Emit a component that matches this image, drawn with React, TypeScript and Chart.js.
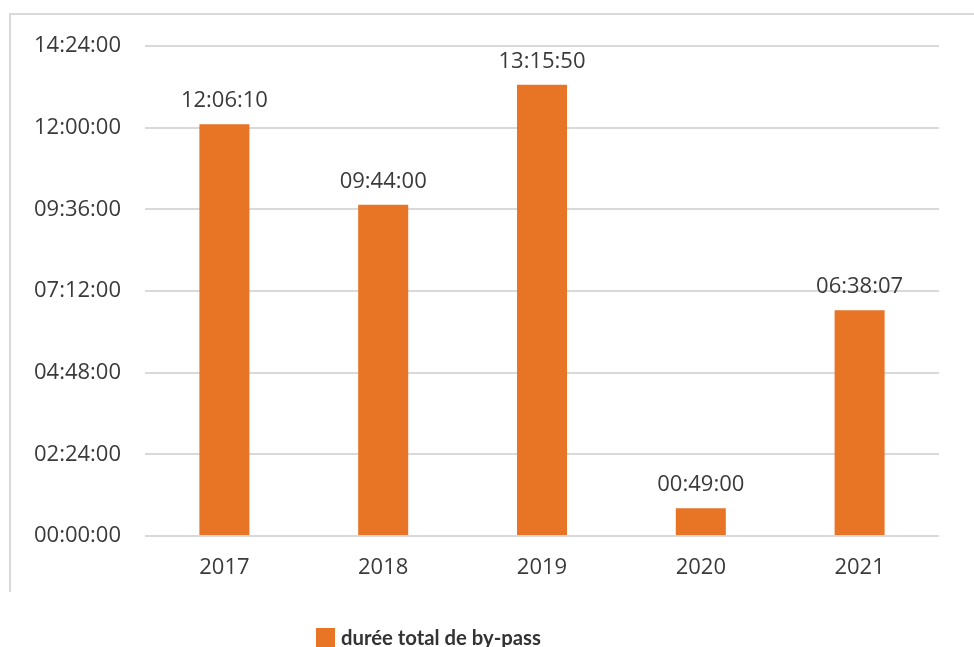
import React, { useEffect, useRef } from "react";
import { Chart, registerables } from "chart.js";

Chart.register(...registerables);

const categories = ["2017", "2018", "2019", "2020", "2021"];
// durations in seconds
const durations = [43570, 35040, 47750, 2940, 23887];
const seriesLabel = "durée total de by-pass";
const yMax = 51840;
const yStep = 8640;

const BAR_COLOR = "#E87426";
const TEXT_COLOR = "#3a3a3a";
const GRID_COLOR = "#d9d9d9";
const FONT = "'Open Sans', sans-serif";

function fmt(sec: number): string {
  const h = Math.floor(sec / 3600);
  const m = Math.floor((sec % 3600) / 60);
  const s = Math.round(sec % 60);
  const p = (n: number) => String(n).padStart(2, "0");
  return `${p(h)}:${p(m)}:${p(s)}`;
}

const framePlugin = {
  id: "frame",
  beforeDraw(chart: any) {
    const ctx = chart.ctx;
    ctx.save();
    ctx.strokeStyle = GRID_COLOR;
    ctx.lineWidth = 2;
    ctx.beginPath();
    ctx.moveTo(10, 592);
    ctx.lineTo(10, 14);
    ctx.lineTo(chart.width, 14);
    ctx.stroke();
    ctx.restore();
  },
};

const valueLabels = {
  id: "valueLabels",
  afterDatasetsDraw(chart: any) {
    const ctx = chart.ctx;
    const meta = chart.getDatasetMeta(0);
    const data = chart.data.datasets[0].data as number[];
    ctx.save();
    ctx.fillStyle = TEXT_COLOR;
    ctx.font = `22px ${FONT}`;
    ctx.textAlign = "center";
    ctx.textBaseline = "alphabetic";
    meta.data.forEach((bar: any, i: number) => {
      ctx.fillText(fmt(data[i]), bar.x, bar.y - 17);
    });
    ctx.restore();
  },
};

const customLegend = {
  id: "customLegend",
  afterDraw(chart: any) {
    const ctx = chart.ctx;
    const ds = chart.data.datasets[0];
    ctx.save();
    ctx.fillStyle = ds.backgroundColor;
    ctx.fillRect(316, 628, 19, 19);
    ctx.fillStyle = "#333333";
    ctx.font = `bold 20.3px Lato, sans-serif`;
    ctx.textAlign = "left";
    ctx.textBaseline = "middle";
    ctx.fillText(ds.label, 341, 638);
    ctx.restore();
  },
};

export default function App() {
  const ref = useRef<HTMLCanvasElement | null>(null);
  useEffect(() => {
    if (!ref.current) return;
    const chart = new Chart(ref.current, {
      type: "bar",
      data: {
        labels: categories,
        datasets: [
          {
            label: seriesLabel,
            data: durations,
            backgroundColor: BAR_COLOR,
            barPercentage: 0.315,
            categoryPercentage: 1,
          },
        ],
      },
      options: {
        animation: false,
        responsive: false,
        maintainAspectRatio: false,
        layout: { padding: { top: 46, right: 35, left: 0, bottom: 0 } },
        plugins: {
          legend: { display: false },
          tooltip: { enabled: false },
        },
        scales: {
          x: {
            grid: { display: false },
            border: { display: false },
            ticks: {
              color: TEXT_COLOR,
              font: { family: FONT, size: 22 },
              padding: 11,
            },
            afterFit(scale: any) {
              scale.height = 111;
            },
          },
          y: {
            min: 0,
            max: yMax,
            border: { display: false },
            grid: { color: GRID_COLOR, lineWidth: 2, drawTicks: false },
            ticks: {
              stepSize: yStep,
              color: TEXT_COLOR,
              font: { family: FONT, size: 22 },
              padding: 24,
              callback: (v: any) => fmt(Number(v)),
            },
            afterFit(scale: any) {
              scale.width = 145;
            },
          },
        },
      },
      plugins: [framePlugin, valueLabels, customLegend],
    });
    return () => chart.destroy();
  }, []);
  return (
    <div style={{ position: "absolute", left: 0, top: 0, width: 974, height: 647, background: "#fff" }}>
      <canvas ref={ref} width={974} height={647} style={{ display: "block" }} />
    </div>
  );
}
